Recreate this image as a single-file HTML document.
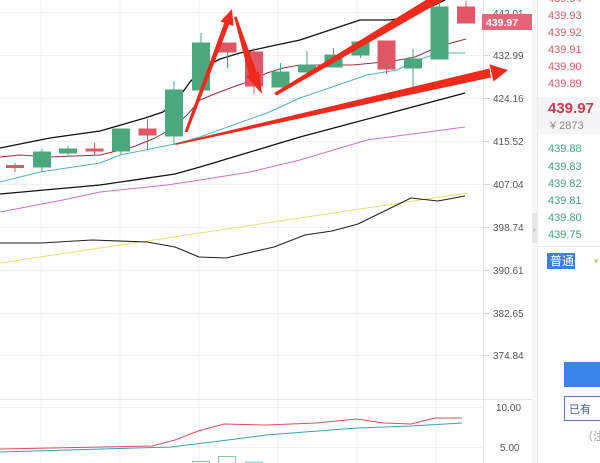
<!DOCTYPE html>
<html><head><meta charset="utf-8"><style>
html,body{margin:0;padding:0;background:#fff;}
body{width:600px;height:463px;overflow:hidden;}
svg{display:block;}
text{font-family:"Liberation Sans","Noto Sans CJK SC",sans-serif;}
</style></head><body>
<svg width="600" height="463" viewBox="0 0 600 463" xmlns="http://www.w3.org/2000/svg">
<rect width="600" height="463" fill="#fff"/>
<!-- grid -->
<g stroke="#f1f1f1" stroke-width="1">
<line x1="41" y1="0" x2="41" y2="463"/><line x1="120" y1="0" x2="120" y2="463"/>
<line x1="199" y1="0" x2="199" y2="463"/><line x1="278" y1="0" x2="278" y2="463"/>
<line x1="357" y1="0" x2="357" y2="463"/><line x1="436" y1="0" x2="436" y2="463"/>
<line x1="0" y1="12.5" x2="483" y2="12.5"/><line x1="0" y1="55.5" x2="483" y2="55.5"/>
<line x1="0" y1="98.5" x2="483" y2="98.5"/><line x1="0" y1="141.5" x2="483" y2="141.5"/>
<line x1="0" y1="184.5" x2="483" y2="184.5"/><line x1="0" y1="227.5" x2="483" y2="227.5"/>
<line x1="0" y1="270.5" x2="483" y2="270.5"/><line x1="0" y1="313.5" x2="483" y2="313.5"/>
<line x1="0" y1="355.5" x2="483" y2="355.5"/>
<line x1="0" y1="407.5" x2="483" y2="407.5"/><line x1="0" y1="447.5" x2="483" y2="447.5"/>
</g>
<line x1="483.5" y1="0" x2="483.5" y2="463" stroke="#e8e8e8"/>
<line x1="0" y1="399.5" x2="533" y2="399.5" stroke="#e3e3e3"/>
<g stroke="#d8d8d8">
<line x1="483" y1="55.5" x2="490" y2="55.5"/><line x1="483" y1="98.5" x2="490" y2="98.5"/>
<line x1="483" y1="141.5" x2="490" y2="141.5"/><line x1="483" y1="184.5" x2="490" y2="184.5"/>
<line x1="483" y1="227.5" x2="490" y2="227.5"/><line x1="483" y1="270.5" x2="490" y2="270.5"/>
<line x1="483" y1="313.5" x2="490" y2="313.5"/><line x1="483" y1="355.5" x2="490" y2="355.5"/>
</g>
<!-- axis labels -->
<g font-size="10" fill="#555">
<text x="493" y="17">442.01</text>
<text x="493" y="59">432.99</text>
<text x="493" y="102">424.16</text>
<text x="493" y="145">415.52</text>
<text x="493" y="188">407.04</text>
<text x="493" y="231">398.74</text>
<text x="493" y="274">390.61</text>
<text x="493" y="317">382.65</text>
<text x="493" y="359">374.84</text>
<text x="496" y="411">10.00</text>
<text x="500" y="451">5.00</text>
</g>
<!-- current price tag -->
<rect x="482" y="14" width="51" height="16" fill="#e4667a"/>
<text x="486" y="26" font-size="10.5" font-weight="bold" fill="#fff">439.97</text>

<!-- MA lines -->
<g fill="none" stroke-linejoin="round">
<polyline stroke="#e8e070" stroke-width="1" points="0,263 467,193"/>
<polyline stroke="#222" stroke-width="1.1" points="0,243 41,243 92,240 147,242 175,247 199,257 226,258 274,247 305,235 332,231 358,224 411,198 438,201 465,196"/>
<polyline stroke="#d070c8" stroke-width="1" points="0,212 63,200 100,192 167,185 200,180 250,172 300,160 367,140 465,127"/>
<polyline stroke="#111" stroke-width="1.3" points="0,194 100,185 175,174 200,167 250,152 300,137 465,93"/>
<polyline stroke="#4fb3c9" stroke-width="1" points="0,182 40,172 100,163 120,155 175,144 200,137 233,125 267,113 300,98 367,75 397,70 417,60 440,53 465,53"/>
<polyline stroke="#9b3040" stroke-width="1" points="0,157 20,155 50,157 100,155 133,147 155,138 173,128 187,115 200,100 217,93 233,87 253,80 267,73 283,68 300,65 353,65 393,61 415,57 440,46 466,39"/>
<polyline stroke="#111" stroke-width="1.3" points="0,148 50,138 100,131 145,118 163,112 177,100 190,82 203,68 220,59 240,53 267,47 300,40 360,20 390,20 410,17 428,8 445,0"/>
</g>

<!-- candles -->
<g stroke-width="1">
<g stroke="#e15566" fill="#e15566">
<line x1="15" y1="163" x2="15" y2="172"/><rect x="6.5" y="165.5" width="17" height="2"/>
<line x1="94.5" y1="143" x2="94.5" y2="156"/><rect x="86" y="149" width="17" height="2"/>
<line x1="147.5" y1="119" x2="147.5" y2="150"/><rect x="139" y="129" width="17" height="6"/>
<line x1="227.5" y1="43" x2="227.5" y2="68"/><rect x="219" y="43" width="17" height="9"/>
<line x1="254" y1="48" x2="254" y2="94"/><rect x="245.5" y="52" width="17" height="34"/>
<line x1="386.5" y1="41" x2="386.5" y2="74"/><rect x="378" y="41" width="17" height="28"/>
<line x1="466" y1="1" x2="466" y2="23"/><rect x="457.5" y="7" width="17" height="16"/>
</g>
<g stroke="#4aa87c" fill="#4aa87c">
<line x1="42" y1="149" x2="42" y2="172"/><rect x="33.5" y="152" width="17" height="15"/>
<line x1="68" y1="146" x2="68" y2="157"/><rect x="59.5" y="149" width="17" height="4"/>
<line x1="121" y1="129" x2="121" y2="155"/><rect x="112.5" y="129" width="17" height="22"/>
<line x1="174" y1="81" x2="174" y2="145"/><rect x="165.5" y="90" width="17" height="46"/>
<line x1="201" y1="33" x2="201" y2="90"/><rect x="192.5" y="43" width="17" height="47"/>
<line x1="280.5" y1="63" x2="280.5" y2="87"/><rect x="272" y="72" width="17" height="15"/>
<line x1="307" y1="51" x2="307" y2="72"/><rect x="298.5" y="65" width="17" height="7"/>
<line x1="333.5" y1="48" x2="333.5" y2="67"/><rect x="325" y="55" width="17" height="12"/>
<line x1="360.5" y1="42" x2="360.5" y2="58"/><rect x="352" y="42" width="17" height="13"/>
<line x1="413" y1="49" x2="413" y2="87"/><rect x="404.5" y="59" width="17" height="9"/>
<line x1="439.5" y1="0" x2="439.5" y2="59"/><rect x="431" y="7" width="17" height="52"/>
</g>
</g>

<!-- red annotation arrows -->
<g fill="#ee2a1c">
<!-- arrow 1 up -->
<polygon points="184.5,132 187.5,132 229.5,23.5 224.5,22"/>
<polygon points="232,9 233.5,26 220.5,21.5"/>
<!-- arrow 2 down -->
<polygon points="234,17 236.5,16.5 257,73 249,75"/>
<polygon points="262,94 259,71.5 246,76"/>
<!-- arrow 3 long -->
<polygon points="175,143.5 175.5,145 491,77.5 489.5,68.5"/>
<polygon points="508,70 493.5,81.5 489.5,64.5"/>
<!-- arrow 4 -->
<polygon points="274,93 276.5,95.5 447,-2 439,-8"/>
</g>

<!-- lower indicator -->
<g fill="none" stroke-width="1">
<polyline stroke="#d9505e" points="0,449 152,446 175,440 198,431 224,424 266,425 316,423 357,419 384,423 411,424 435,418 462,418"/>
<polyline stroke="#3aa0b8" points="0,452 171,447 228,440 266,435 357,428 411,426 462,423"/>
</g>
<g fill="none" stroke="#8cc4a4" stroke-width="1">
<rect x="192.5" y="461.5" width="17" height="5"/>
<rect x="218.5" y="456.5" width="17" height="10"/>
</g>
<line x1="245" y1="462.5" x2="263" y2="462.5" stroke="#8fe0d0" stroke-width="2"/>

<!-- right panel -->
<rect x="532" y="0" width="6" height="463" fill="#f7f7f7"/>
<line x1="537.5" y1="0" x2="537.5" y2="463" stroke="#ececec"/>
<rect x="532" y="213" width="5" height="30" fill="#e6e6e6"/>
<text x="533" y="232" font-size="8" fill="#999">›</text>
<rect x="538" y="97" width="62" height="37" fill="#f5f5f7"/>
<g font-size="11" fill="#d05a68">
<text x="548" y="2">439.94</text>
<text x="548" y="19">439.93</text>
<text x="548" y="36">439.92</text>
<text x="548" y="53">439.91</text>
<text x="548" y="70">439.90</text>
<text x="548" y="87">439.89</text>
</g>
<text x="548" y="113" font-size="15" font-weight="bold" fill="#cc3d50">439.97</text>
<text x="550" y="129" font-size="11" fill="#888">¥ 2873</text>
<g font-size="11" fill="#3fa478">
<text x="548" y="152">439.88</text>
<text x="548" y="170">439.83</text>
<text x="548" y="187">439.82</text>
<text x="548" y="204">439.81</text>
<text x="548" y="221">439.80</text>
<text x="548" y="238">439.75</text>
</g>
<line x1="538" y1="246.5" x2="600" y2="246.5" stroke="#eaeaea"/>
<rect x="547" y="253" width="28" height="16" fill="#3c7fde"/>
<text x="550" y="265" font-size="12" fill="#fff">普通</text>
<text x="594" y="264" font-size="9" fill="#d8c070">▾</text>
<rect x="564" y="362" width="40" height="25" fill="#3a84ea"/>
<rect x="564.5" y="396.5" width="40" height="24" fill="#fff" stroke="#5a7eae"/>
<text x="569" y="413" font-size="11" fill="#3d5f95">已有</text>
<text x="582" y="440" font-size="11" fill="#999">（注</text>
</svg>
</body></html>
